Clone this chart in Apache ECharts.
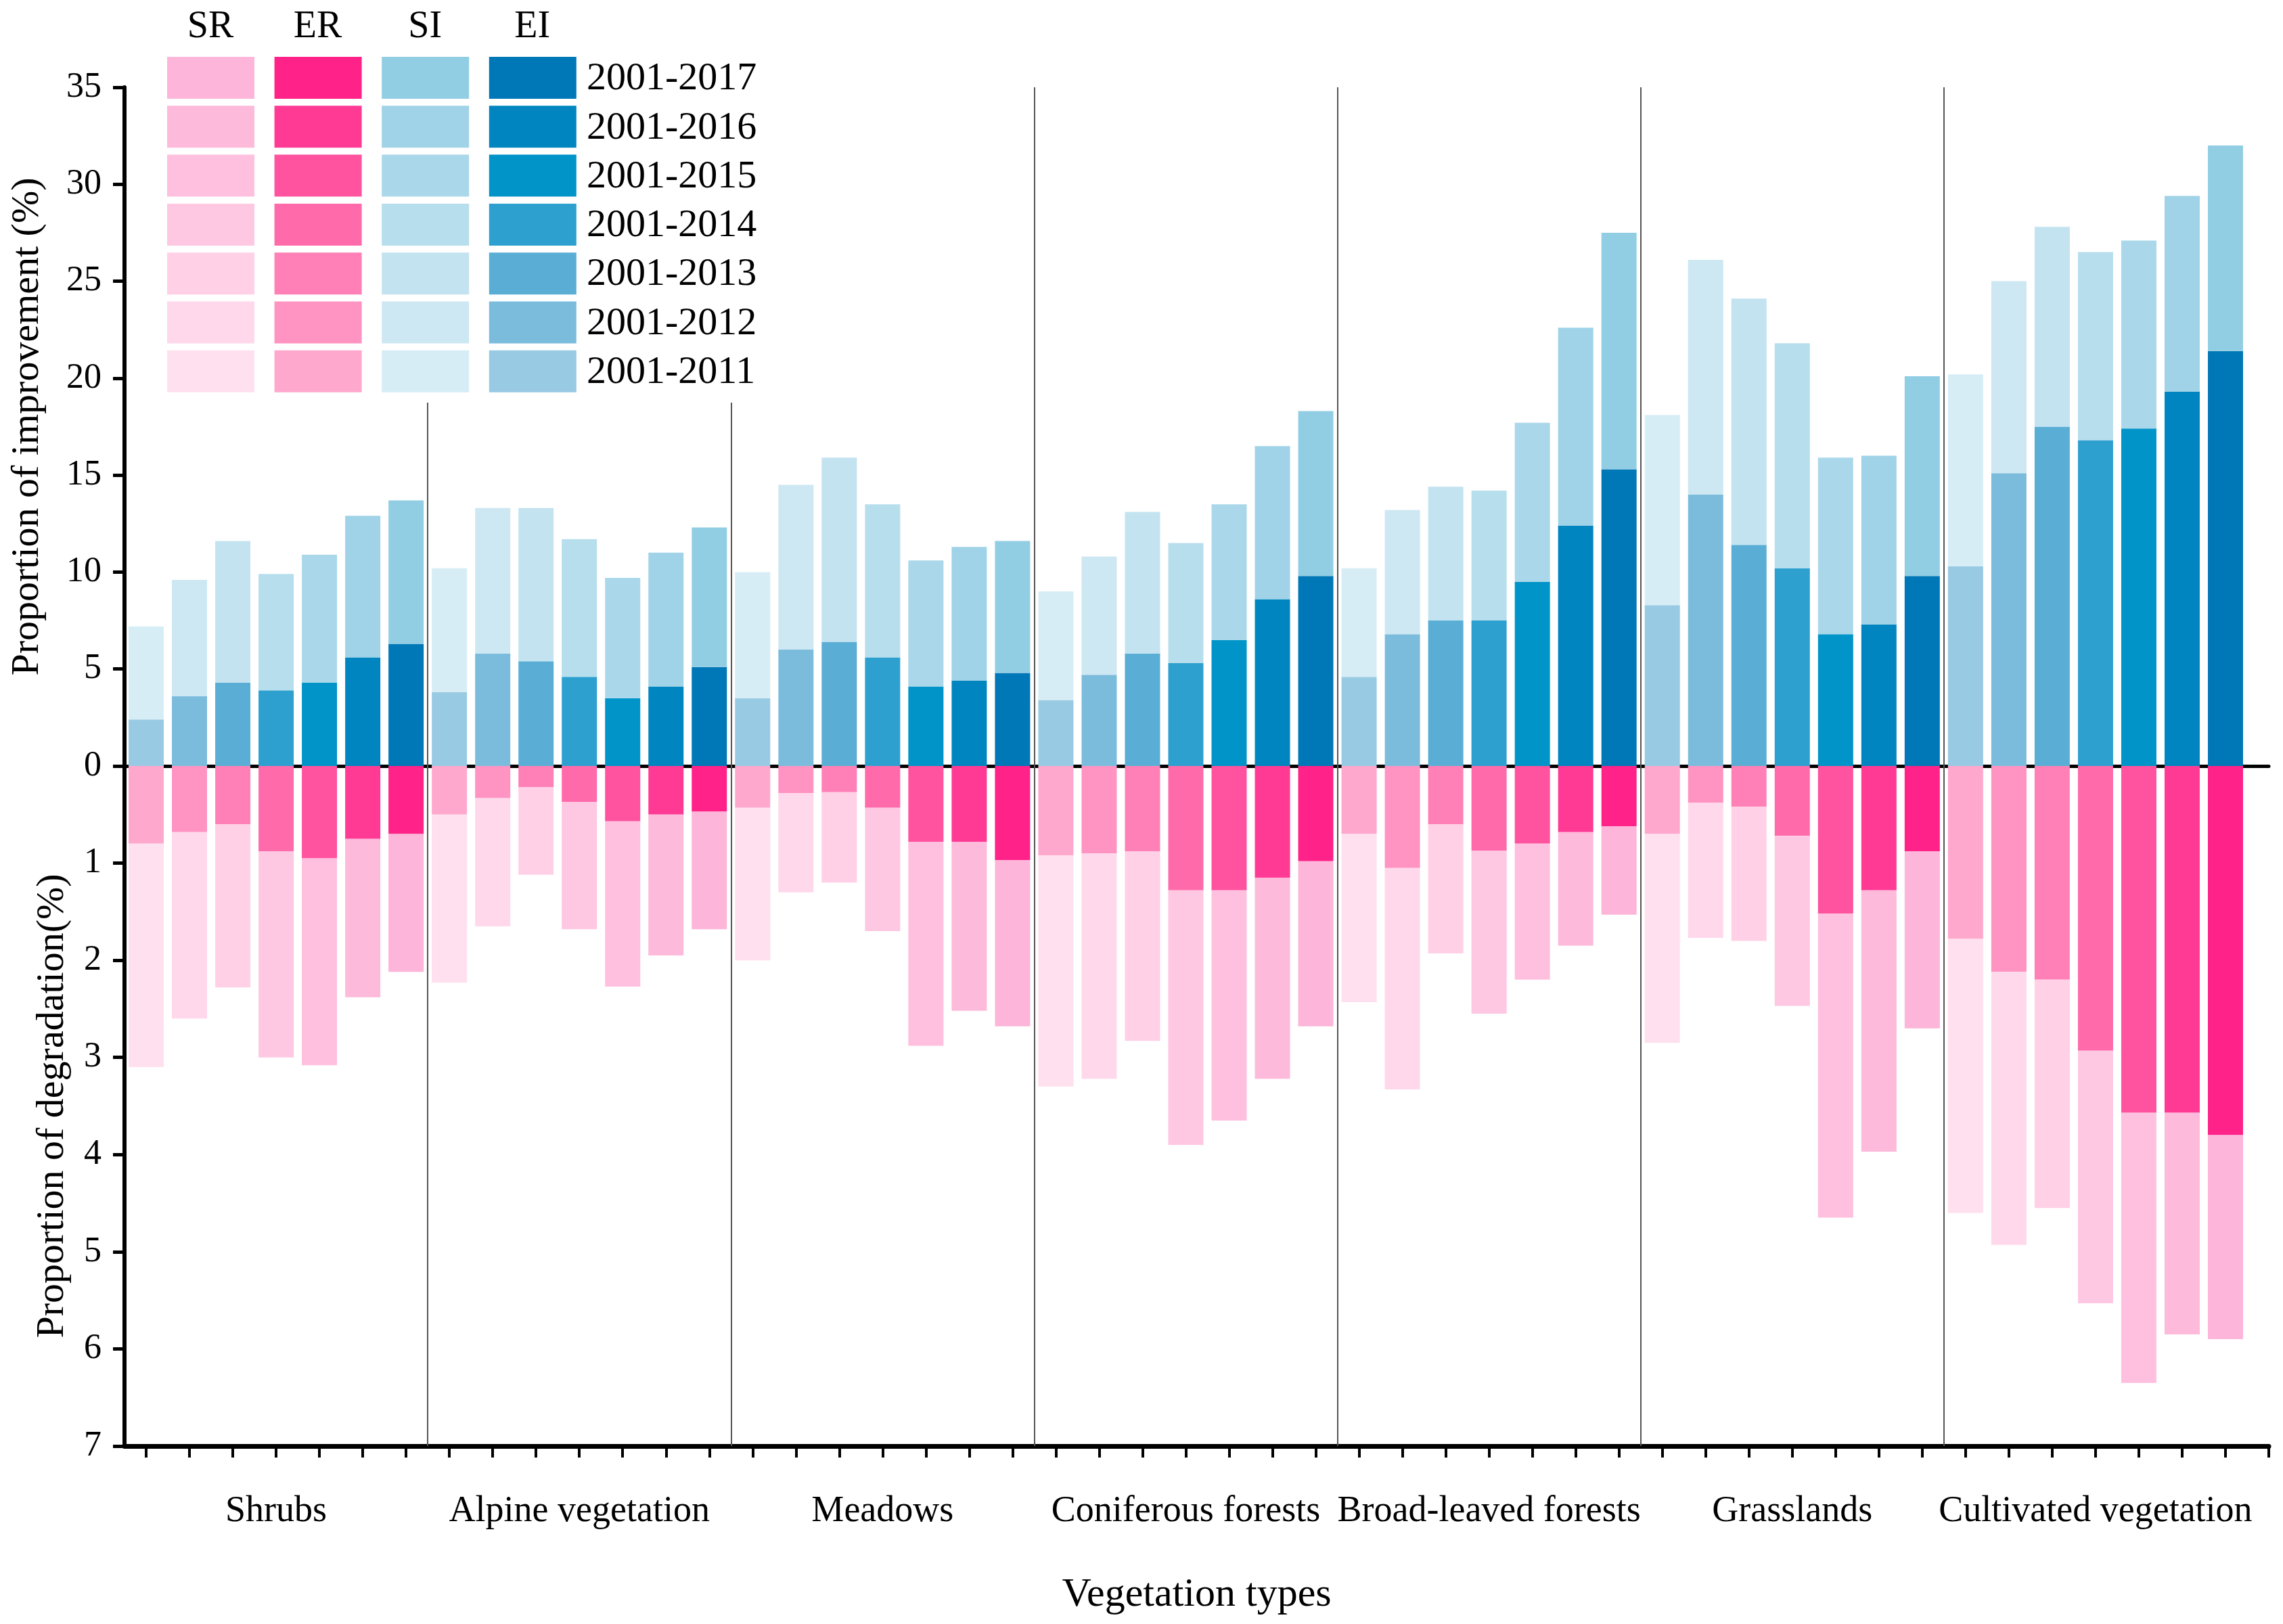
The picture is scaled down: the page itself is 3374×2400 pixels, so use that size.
<!DOCTYPE html>
<html>
<head>
<meta charset="utf-8">
<script src="https://cdn.jsdelivr.net/npm/echarts@6/dist/echarts.min.js"></script>
<style>
html,body{margin:0;padding:0;background:#fff;}
#chart{width:3374px;height:2400px;}
</style>
</head>
<body>
<div id="chart"></div>
<script>
// ---------------- data ----------------
const categories = ['Shrubs', 'Alpine vegetation', 'Meadows', 'Coniferous forests', 'Broad-leaved forests', 'Grasslands', 'Cultivated vegetation'];
const periods = ['2001-2011', '2001-2012', '2001-2013', '2001-2014', '2001-2015', '2001-2016', '2001-2017'];
const seriesNames = ['SR', 'ER', 'SI', 'EI'];
const yTopTicks = [0, 5, 10, 15, 20, 25, 30, 35];
const yBottomTicks = [0, 1, 2, 3, 4, 5, 6, 7];

// extreme improvement (%), 7 periods per vegetation type
const EI = [
  2.4, 3.6, 4.3, 3.9, 4.3, 5.6, 6.3,
  3.8, 5.8, 5.4, 4.6, 3.5, 4.1, 5.1,
  3.5, 6.0, 6.4, 5.6, 4.1, 4.4, 4.8,
  3.4, 4.7, 5.8, 5.3, 6.5, 8.6, 9.8,
  4.6, 6.8, 7.5, 7.5, 9.5, 12.4, 15.3,
  8.3, 14.0, 11.4, 10.2, 6.8, 7.3, 9.8,
  10.3, 15.1, 17.5, 16.8, 17.4, 19.3, 21.4
];
// slight improvement (%)
const SI = [
  4.8, 6.0, 7.3, 6.0, 6.6, 7.3, 7.4,
  6.4, 7.5, 7.9, 7.1, 6.2, 6.9, 7.2,
  6.5, 8.5, 9.5, 7.9, 6.5, 6.9, 6.8,
  5.6, 6.1, 7.3, 6.2, 7.0, 7.9, 8.5,
  5.6, 6.4, 6.9, 6.7, 8.2, 10.2, 12.2,
  9.8, 12.1, 12.7, 11.6, 9.1, 8.7, 10.3,
  9.9, 9.9, 10.3, 9.7, 9.7, 10.1, 10.6
];
// extreme degradation (%)
const ER = [
  0.80, 0.68, 0.60, 0.88, 0.95, 0.75, 0.70,
  0.50, 0.33, 0.22, 0.37, 0.57, 0.50, 0.47,
  0.43, 0.28, 0.27, 0.43, 0.78, 0.78, 0.97,
  0.92, 0.90, 0.88, 1.28, 1.28, 1.15, 0.98,
  0.70, 1.05, 0.60, 0.87, 0.80, 0.68, 0.62,
  0.70, 0.38, 0.42, 0.72, 1.52, 1.28, 0.88,
  1.78, 2.12, 2.20, 2.93, 3.57, 3.57, 3.80
];
// slight degradation (%)
const SR = [
  2.30, 1.92, 1.68, 2.12, 2.13, 1.63, 1.42,
  1.73, 1.32, 0.90, 1.31, 1.70, 1.45, 1.21,
  1.57, 1.02, 0.93, 1.27, 2.10, 1.74, 1.71,
  2.38, 2.32, 1.95, 2.62, 2.37, 2.07, 1.70,
  1.73, 2.28, 1.33, 1.68, 1.40, 1.17, 0.91,
  2.15, 1.39, 1.38, 1.75, 3.13, 2.69, 1.82,
  2.82, 2.81, 2.35, 2.60, 2.78, 2.28, 2.10
];

// colours per period (2001-2011 -> 2001-2017)
const SR_COLORS = ['#FFE0EE', '#FFD8EB', '#FFD0E6', '#FEC7E2', '#FEC0DE', '#FDBADB', '#FDB5D9'];
const ER_COLORS = ['#FFA8CE', '#FF93C2', '#FF80B6', '#FF6AAA', '#FF529F', '#FF3A95', '#FF2289'];
const SI_COLORS = ['#D7EDF5', '#CDE8F2', '#C3E3F0', '#B7DEEC', '#AAD8EA', '#A0D3E7', '#92CEE3'];
const EI_COLORS = ['#98CAE3', '#7BBCDD', '#5AAED5', '#2DA0D0', '#0094C8', '#0085C0', '#0077B6'];

// ---------------- build ----------------
const NP = periods.length;
const N = categories.length * NP;
// value first, position second (so the stack is applied on the value dimension)
const toData = (arr) => arr.map((v, i) => [v, i + 1]);
const FONT = "'Liberation Serif', 'Times New Roman', serif";
const boundaries = categories.slice(1).map((c, k) => ({ xAxis: (k + 1) * NP + 0.5 }));
const labelPos = categories.map((c, k) => k * NP + (NP + 1) / 2);
const tickPos = Array.from({ length: N + 1 }, (_, i) => i + 1);

const sepLine = {
  symbol: 'none', silent: true, label: { show: false },
  lineStyle: { color: '#555', width: 2, type: 'solid' },
  data: boundaries, animation: false, z: 1
};

const colorFn = (colors) => (p) => colors[p.dataIndex % NP];

// legend drawn as graphic
const legendEls = [{ type: 'rect', shape: { x: 237, y: 0, width: 900, height: 595 }, style: { fill: '#fff' }, z: 100 }];
const legendCols = [SR_COLORS, ER_COLORS, SI_COLORS, EI_COLORS];
legendCols.forEach((cols, ci) => {
  const x = 247 + ci * 158.6;
  legendEls.push({ type: 'text', x: x + 64, y: 40, z: 101,
    style: { text: seriesNames[ci], fill: '#000', fontSize: 56, fontFamily: FONT, align: 'center', verticalAlign: 'middle' } });
  for (let r = 0; r < NP; r++) {
    legendEls.push({ type: 'rect', z: 101, shape: { x: x, y: 84 + r * 72.3, width: 129, height: 62 }, style: { fill: cols[NP - 1 - r] } });
  }
});
for (let r = 0; r < NP; r++) {
  legendEls.push({ type: 'text', x: 867, y: 84 + r * 72.3 + 33, z: 101,
    style: { text: periods[NP - 1 - r], fill: '#000', fontSize: 58, fontFamily: FONT, align: 'left', verticalAlign: 'middle' } });
}

const barCommon = (name, xi, stack, arr, colors) => ({
  name, type: 'bar', xAxisIndex: xi, yAxisIndex: xi, stack, barWidth: 52,
  encode: { x: 1, y: 0 },
  data: toData(arr), itemStyle: { color: colorFn(colors) }
});

const chart = echarts.init(document.getElementById('chart'));
chart.setOption({
  animation: false,
  backgroundColor: '#fff',
  textStyle: { fontFamily: FONT, color: '#000' },
  grid: [
    { left: 184, right: 21, top: 129, height: 1003 },
    { left: 184, right: 21, top: 1132, height: 1005 }
  ],
  xAxis: [
    { type: 'value', gridIndex: 0, min: 0.5, max: N + 1,
      axisLine: { show: true, onZero: false, lineStyle: { color: '#000', width: 5 } },
      axisTick: { show: false }, axisLabel: { show: false }, splitLine: { show: false } },
    { type: 'value', gridIndex: 1, min: 0.5, max: N + 1, position: 'bottom',
      name: 'Vegetation types', nameLocation: 'middle', nameGap: 190,
      nameTextStyle: { fontSize: 60, fontFamily: FONT, color: '#000' },
      axisLine: { show: true, onZero: false, lineStyle: { color: '#000', width: 7 } },
      axisTick: { show: true, inside: false, length: 17, customValues: tickPos, lineStyle: { color: '#000', width: 4 } },
      axisLabel: { show: true, margin: 70, customValues: labelPos, fontSize: 54, fontFamily: FONT, color: '#000',
        formatter: (v) => categories[Math.round((v - (NP + 1) / 2) / NP)] },
      splitLine: { show: false } }
  ],
  yAxis: [
    { type: 'value', gridIndex: 0, min: yTopTicks[0], max: yTopTicks[yTopTicks.length - 1], interval: 5,
      name: 'Proportion of improvement (%)', nameLocation: 'middle', nameGap: 114, nameRotate: 90,
      nameTextStyle: { fontSize: 58, fontFamily: FONT, color: '#000' },
      axisLine: { show: true, lineStyle: { color: '#000', width: 6 } },
      axisTick: { show: true, length: 17, lineStyle: { color: '#000', width: 5 } },
      axisLabel: { margin: 34, fontSize: 52, fontFamily: FONT, color: '#000' },
      splitLine: { show: false } },
    { type: 'value', gridIndex: 1, inverse: true, min: yBottomTicks[0], max: yBottomTicks[yBottomTicks.length - 1], interval: 1,
      name: 'Proportion of degradation(%)', nameLocation: 'middle', nameGap: 77, nameRotate: 90,
      nameTextStyle: { fontSize: 58, fontFamily: FONT, color: '#000' },
      axisLine: { show: true, lineStyle: { color: '#000', width: 6 } },
      axisTick: { show: true, length: 17, lineStyle: { color: '#000', width: 5 } },
      axisLabel: { margin: 34, fontSize: 52, fontFamily: FONT, color: '#000', showMinLabel: false },
      splitLine: { show: false } }
  ],
  graphic: legendEls,
  series: [
    barCommon('EI', 0, 'imp', EI, EI_COLORS),
    Object.assign(barCommon('SI', 0, 'imp', SI, SI_COLORS), { markLine: sepLine }),
    barCommon('ER', 1, 'deg', ER, ER_COLORS),
    Object.assign(barCommon('SR', 1, 'deg', SR, SR_COLORS), { markLine: sepLine })
  ]
});
</script>
</body>
</html>
